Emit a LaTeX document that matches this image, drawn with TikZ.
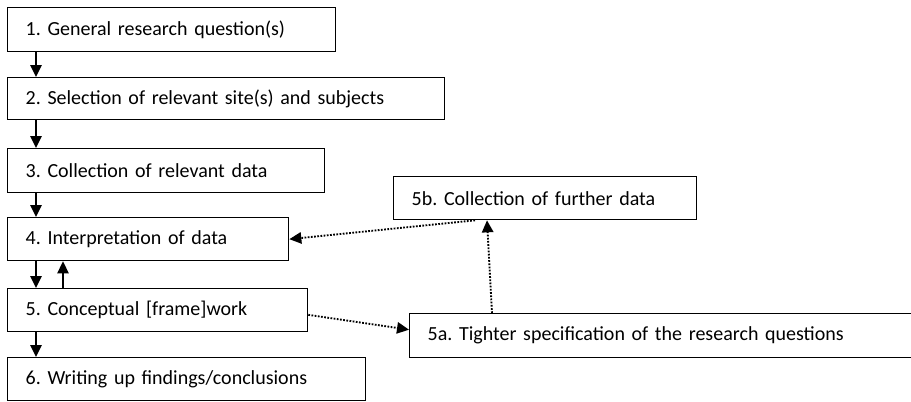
\documentclass[tikz,border=0pt]{standalone}
\usepackage{fontspec}
\setmainfont{Carlito}[WordSpace=0.8]
\usetikzlibrary{arrows.meta}
\frenchspacing
\tikzset{
  box/.style={draw, line width=1pt, anchor=north west, inner xsep=13.5pt, inner ysep=0pt,
    minimum height=32.25pt, text width=#1, align=left, font=\fontsize{15pt}{18pt}\selectfont},
  solidarrow/.style={line width=1.2pt, -{Triangle[length=9pt,width=8.5pt]}},
  dotarrow/.style={line width=1.4pt, dash pattern=on 1.3pt off 1.1pt, -{Triangle[length=9pt,width=8.5pt]}}
}
\begin{document}
\begin{tikzpicture}[x=0.75pt, y=-0.75pt]
\useasboundingbox (0,0) rectangle (911,401);
% box widths in px: text width = (w-36)*0.75pt
\node[box=219pt, minimum height=33pt] (n1) at (7,7) {1. General research question(s)};
\node[box=300.75pt, minimum height=31.5pt] (n2) at (7,77) {2. Selection of relevant site(s) and subjects};
\node[box=210.75pt, minimum height=33pt] (n3) at (7,148) {3. Collection of relevant data};
\node[box=183.75pt] (n4) at (7,217) {4. Interpretation of data};
\node[box=198pt] (n5) at (7,288) {5. Conceptual [frame]work};
\node[box=241.5pt] (n6) at (7,357) {6. Writing up findings/conclusions};
\node[box=200.25pt] (n5b) at (393,176) {5b. Collection of further data};
\node[box=420pt, minimum height=33pt] (n5a) at (409,313) {5a. Tighter specification of the research questions};

\draw[solidarrow] ([xshift=21.75pt]n1.south west) -- ([xshift=21.75pt]n2.north west);
\draw[solidarrow] ([xshift=21.75pt]n2.south west) -- ([xshift=21.75pt]n3.north west);
\draw[solidarrow] ([xshift=21.75pt]n3.south west) -- ([xshift=21.75pt]n4.north west);
\draw[solidarrow] ([xshift=21.75pt]n4.south west) -- ([xshift=21.75pt]n5.north west);
\draw[solidarrow] ([xshift=42pt]n5.north west) -- ([xshift=42pt]n4.south west);
\draw[solidarrow] ([xshift=21.75pt]n5.south west) -- ([xshift=21.75pt]n6.north west);

\draw[dotarrow] ([xshift=61.5pt]n5b.south west) -- (n4.east);
\draw[dotarrow] ([xshift=62.25pt]n5a.north west) -- ([xshift=70.5pt]n5b.south west);
\draw[dotarrow] ([yshift=-3.5pt]n5.east) -- ([yshift=4.5pt]n5a.west);
\end{tikzpicture}
\end{document}
